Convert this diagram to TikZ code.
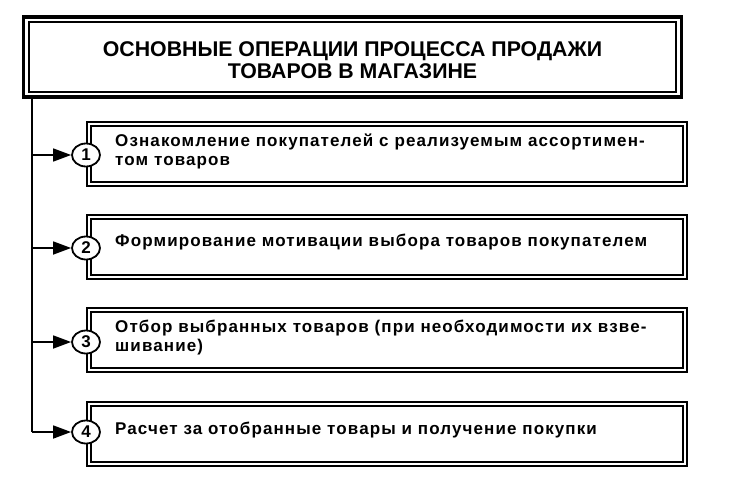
\documentclass[tikz,border=0pt]{standalone}
\usepackage{fontspec}
\setmainfont{Liberation Sans}
\newfontfamily\titlefont{Liberation Sans}
\newfontfamily\bodyfont{Liberation Sans}[LetterSpace=6.5]
\usetikzlibrary{arrows.meta,shapes.geometric}
\begin{document}
\begin{tikzpicture}[x=1pt,y=-1pt,
  titlebox/.style={draw, line width=3.8pt, minimum width=658pt, minimum height=80pt, inner sep=0pt},
  stepbox/.style={draw, line width=1.7pt, double, double distance=1.8pt, minimum width=596pt, minimum height=60pt, inner sep=0pt},
  num/.style={ellipse, draw, line width=1.8pt, fill=white, minimum width=28pt, minimum height=23pt, inner sep=0pt, font=\bfseries\fontsize{17}{17}\selectfont},
  btext/.style={anchor=west, align=left, inner sep=0pt, font=\bodyfont\bfseries\fontsize{17}{19}\selectfont},
  arr/.style={-{Triangle[length=18pt,width=13pt]}, line width=1.7pt},
  line/.style={line width=1.7pt}]
\useasboundingbox (0,0) rectangle (730,480);
\node[titlebox] (title) at (352.5,57) {};
\draw[line width=1.8pt] ([shift={(7.5,7)}]title.north west) rectangle ([shift={(-7.5,-7)}]title.south east);
\node[font=\titlefont\bfseries\fontsize{21.3}{22.5}\selectfont, align=center] (ttext) at (352.5,60) {ОСНОВНЫЕ ОПЕРАЦИИ ПРОЦЕССА ПРОДАЖИ\\ТОВАРОВ В МАГАЗИНЕ};
\node[stepbox] (b1) at (387,154) {};
\node[stepbox] (b2) at (387,247) {};
\node[stepbox] (b3) at (387,340) {};
\node[stepbox] (b4) at (387,434) {};
\node[btext] (t1) at (115,151) {Ознакомление покупателей с реализуемым ассортимен-\\том товаров};
\node[btext] (t2) at (115,242) {Формирование мотивации выбора товаров покупателем};
\node[btext] (t3) at (115,338) {Отбор выбранных товаров (при необходимости их взве-\\шивание)};
\node[btext] (t4) at (115,430) {Расчет за отобранные товары и получение покупки};
\node[num] (c1) at (86,155) {1};
\node[num] (c2) at (86,248) {2};
\node[num] (c3) at (86,342) {3};
\node[num] (c4) at (86,432) {4};
\coordinate (top) at (32,97);
\draw[line] (top) -- (top |- c4);
\draw[arr] (top |- c1) -- (c1);
\draw[arr] (top |- c2) -- (c2);
\draw[arr] (top |- c3) -- (c3);
\draw[arr] (top |- c4) -- (c4);
\end{tikzpicture}
\end{document}
